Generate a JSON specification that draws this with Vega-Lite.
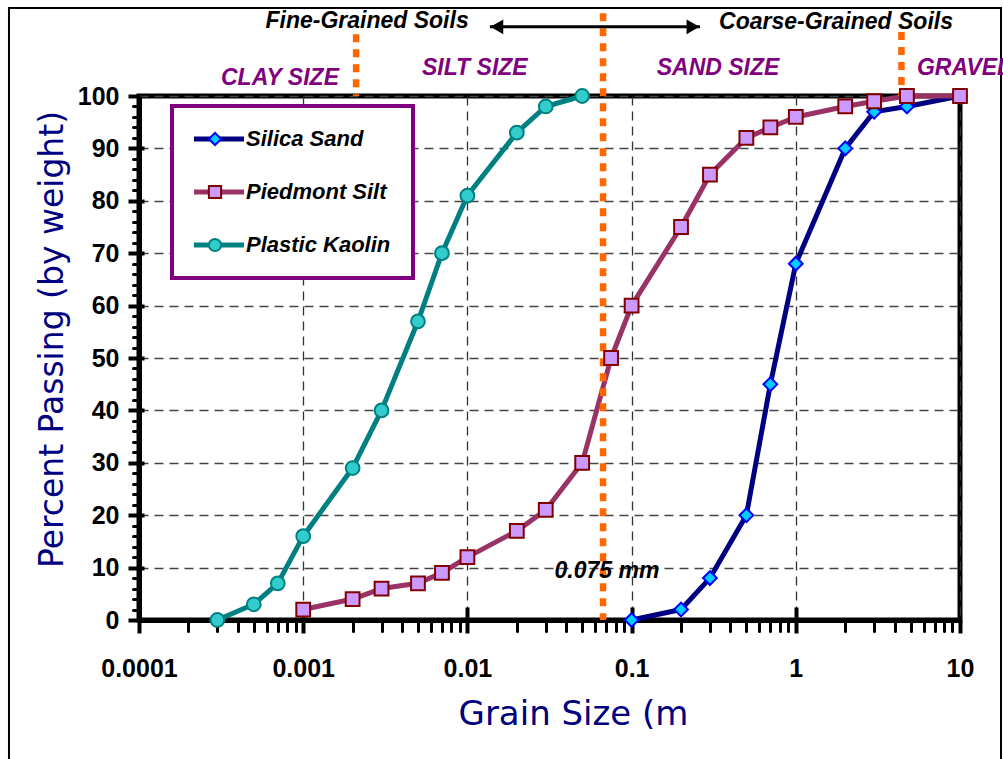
{
  "$schema": "https://vega.github.io/schema/vega-lite/v6.json",
  "width": 821,
  "height": 524,
  "autosize": "none",
  "padding": {"left": 139, "top": 96, "right": 43, "bottom": 139},
  "background": "white",
  "config": {"view": {"stroke": "black", "strokeWidth": 5}, "legend": {"strokeWidth": 4}},
  "datasets": {
    "curves": [
      {"series": "Silica Sand", "size": 0.1, "pct": 0},
      {"series": "Silica Sand", "size": 0.2, "pct": 2},
      {"series": "Silica Sand", "size": 0.3, "pct": 8},
      {"series": "Silica Sand", "size": 0.5, "pct": 20},
      {"series": "Silica Sand", "size": 0.7, "pct": 45},
      {"series": "Silica Sand", "size": 1, "pct": 68},
      {"series": "Silica Sand", "size": 2, "pct": 90},
      {"series": "Silica Sand", "size": 3, "pct": 97},
      {"series": "Silica Sand", "size": 4.75, "pct": 98},
      {"series": "Silica Sand", "size": 10, "pct": 100},
      {"series": "Piedmont Silt", "size": 0.001, "pct": 2},
      {"series": "Piedmont Silt", "size": 0.002, "pct": 4},
      {"series": "Piedmont Silt", "size": 0.003, "pct": 6},
      {"series": "Piedmont Silt", "size": 0.005, "pct": 7},
      {"series": "Piedmont Silt", "size": 0.007, "pct": 9},
      {"series": "Piedmont Silt", "size": 0.01, "pct": 12},
      {"series": "Piedmont Silt", "size": 0.02, "pct": 17},
      {"series": "Piedmont Silt", "size": 0.03, "pct": 21},
      {"series": "Piedmont Silt", "size": 0.05, "pct": 30},
      {"series": "Piedmont Silt", "size": 0.075, "pct": 50},
      {"series": "Piedmont Silt", "size": 0.1, "pct": 60},
      {"series": "Piedmont Silt", "size": 0.2, "pct": 75},
      {"series": "Piedmont Silt", "size": 0.3, "pct": 85},
      {"series": "Piedmont Silt", "size": 0.5, "pct": 92},
      {"series": "Piedmont Silt", "size": 0.7, "pct": 94},
      {"series": "Piedmont Silt", "size": 1, "pct": 96},
      {"series": "Piedmont Silt", "size": 2, "pct": 98},
      {"series": "Piedmont Silt", "size": 3, "pct": 99},
      {"series": "Piedmont Silt", "size": 4.75, "pct": 100},
      {"series": "Piedmont Silt", "size": 10, "pct": 100},
      {"series": "Plastic Kaolin", "size": 0.0003, "pct": 0},
      {"series": "Plastic Kaolin", "size": 0.0005, "pct": 3},
      {"series": "Plastic Kaolin", "size": 0.0007, "pct": 7},
      {"series": "Plastic Kaolin", "size": 0.001, "pct": 16},
      {"series": "Plastic Kaolin", "size": 0.002, "pct": 29},
      {"series": "Plastic Kaolin", "size": 0.003, "pct": 40},
      {"series": "Plastic Kaolin", "size": 0.005, "pct": 57},
      {"series": "Plastic Kaolin", "size": 0.007, "pct": 70},
      {"series": "Plastic Kaolin", "size": 0.01, "pct": 81},
      {"series": "Plastic Kaolin", "size": 0.02, "pct": 93},
      {"series": "Plastic Kaolin", "size": 0.03, "pct": 98},
      {"series": "Plastic Kaolin", "size": 0.05, "pct": 100}
    ],
    "frame": [{"x0": 0.00001615, "x1": 17.77, "y0": 116.8, "y1": -40}],
    "orange": [
      {"x": 0.0021, "y": 111.8, "y2": 100},
      {"x": 0.067, "y": 115.8, "y2": 0},
      {"x": 4.4, "y": 112.2, "y2": 100}
    ],
    "arrow": [{"x": 0.0137, "x2": 0.261, "y": 113.2}],
    "blacktext": [
      {"text": "Fine-Grained Soils", "x": 0.00245, "y": 114.3},
      {"text": "Coarse-Grained Soils", "x": 1.758, "y": 114.1},
      {"text": "0.075 mm", "x": 0.0708, "y": 9.35}
    ],
    "purpletext": [
      {"text": "CLAY SIZE", "x": 0.000722, "y": 103.4},
      {"text": "SILT SIZE", "x": 0.0111, "y": 105.3},
      {"text": "SAND SIZE", "x": 0.336, "y": 105.3}
    ],
    "graveltext": [{"text": "GRAVEL", "x": 5.47, "y": 105.3}]
  },
  "resolve": {"axis": {"x": "independent", "y": "independent"}},
  "layer": [
    {
      "data": {"name": "frame"},
      "mark": {"type": "rect", "fill": "transparent", "stroke": "black", "strokeWidth": 2, "clip": false},
      "encoding": {
        "x": {"field": "x0", "type": "quantitative", "scale": {"type": "log", "domain": [0.0001, 10], "nice": false}, "axis": null},
        "x2": {"field": "x1"},
        "y": {"field": "y0", "type": "quantitative", "scale": {"domain": [0, 100], "nice": false, "zero": false}, "axis": null},
        "y2": {"field": "y1"}
      }
    },
    {
      "data": {"name": "curves"},
      "mark": {"type": "line", "strokeWidth": 5, "strokeJoin": "round", "strokeCap": "round"},
      "encoding": {
        "x": {
          "field": "size", "type": "quantitative",
          "scale": {"type": "log", "domain": [0.0001, 10], "nice": false},
          "axis": {
            "orient": "bottom", "values": [0.0001, 0.001, 0.01, 0.1, 1, 10], "format": "~g",
            "labelFont": "Liberation Sans", "labelFontSize": 25, "labelFontWeight": "bold", "labelColor": "black",
            "labelPadding": 23, "labelOverlap": false, "labelFlush": false,
            "tickSize": 13, "tickWidth": 4, "tickColor": "black",
            "domainColor": "black", "domainWidth": 5,
            "grid": true, "gridColor": "#333333", "gridDash": [9, 6], "gridWidth": 1.3,
            "title": "Grain Size (m", "titleFont": "DejaVu Sans", "titleFontSize": 34, "titleFontWeight": "normal",
            "titleColor": "#000080", "titlePadding": 16, "titleX": 434
          }
        },
        "y": {
          "field": "pct", "type": "quantitative",
          "scale": {"domain": [0, 100], "nice": false, "zero": false},
          "axis": {
            "orient": "left", "values": [0, 10, 20, 30, 40, 50, 60, 70, 80, 90, 100],
            "labelFont": "Liberation Sans", "labelFontSize": 25, "labelFontWeight": "bold", "labelColor": "black",
            "labelPadding": 9, "labelOverlap": false, "labelFlush": false,
            "tickSize": 11, "tickWidth": 4, "tickColor": "black",
            "domainColor": "black", "domainWidth": 5,
            "grid": true, "gridColor": "#444444", "gridDash": [9, 6], "gridWidth": 1.3,
            "title": "Percent Passing (by weight)", "titleFont": "DejaVu Sans", "titleFontSize": 33, "titleFontWeight": "normal",
            "titleColor": "#000080", "titleX": -70, "titleY": 243
          }
        },
        "color": {
          "field": "series", "type": "nominal",
          "scale": {"domain": ["Silica Sand", "Piedmont Silt", "Plastic Kaolin"], "range": ["#000080", "#993366", "#008080"]},
          "legend": {
            "orient": "none", "legendX": 33, "legendY": 10, "title": null,
            "strokeColor": "#800080", "fillColor": "white", "padding": 22,
            "symbolType": "M-5,0H5", "symbolSize": 100, "symbolStrokeWidth": 5, "symbolOffset": 14,
            "labelFont": "Liberation Sans", "labelFontSize": 22, "labelFontWeight": "bold", "labelFontStyle": "italic",
            "labelColor": "black", "labelOffset": 16, "rowPadding": 31, "labelLimit": 400
          }
        }
      }
    },
    {
      "data": {"name": "orange"},
      "mark": {"type": "rule", "color": "#FF6600", "strokeWidth": 6.5, "strokeDash": [8, 7]},
      "encoding": {
        "x": {
          "field": "x", "type": "quantitative",
          "axis": {
            "orient": "bottom", "values": [0.0002, 0.0003, 0.0004, 0.0005, 0.0006, 0.0007, 0.0008, 0.0009, 0.002, 0.003, 0.004, 0.005, 0.006, 0.007, 0.008, 0.009, 0.02, 0.03, 0.04, 0.05, 0.06, 0.07, 0.08, 0.09, 0.2, 0.3, 0.4, 0.5, 0.6, 0.7, 0.8, 0.9, 2, 3, 4, 5, 6, 7, 8, 9],
            "labels": false, "domain": false, "grid": false, "title": null,
            "tickSize": 11, "tickWidth": 3, "tickColor": "black", "tickCap": "round"
          }
        },
        "y": {
          "field": "y", "type": "quantitative",
          "axis": {
            "orient": "left", "values": [2, 4, 6, 8, 12, 14, 16, 18, 22, 24, 26, 28, 32, 34, 36, 38, 42, 44, 46, 48, 52, 54, 56, 58, 62, 64, 66, 68, 72, 74, 76, 78, 82, 84, 86, 88, 92, 94, 96, 98],
            "labels": false, "domain": false, "grid": false, "title": null,
            "tickSize": 6, "tickWidth": 3, "tickColor": "black", "tickCap": "round"
          }
        },
        "y2": {"field": "y2"}
      }
    },
    {
      "data": {"name": "curves"},
      "mark": {"type": "point", "filled": true, "size": 190, "strokeWidth": 2, "opacity": 1},
      "encoding": {
        "x": {
          "field": "size", "type": "quantitative",
          "axis": {
            "orient": "bottom", "values": [0.001, 0.01, 0.1, 1],
            "labels": false, "domain": false, "grid": false, "title": null,
            "tickSize": -13, "tickWidth": 4, "tickColor": "black"
          }
        },
        "y": {
          "field": "pct", "type": "quantitative",
          "axis": {
            "orient": "left", "values": [10, 20, 30, 40, 50, 60, 70, 80, 90],
            "labels": false, "domain": false, "grid": false, "title": null,
            "tickSize": -5, "tickWidth": 4, "tickColor": "black"
          }
        },
        "shape": {
          "field": "series", "type": "nominal", "sort": null,
          "scale": {"range": ["diamond", "square", "circle"]},
          "legend": {
            "orient": "none", "legendX": 33, "legendY": 10, "title": null,
            "padding": 22, "symbolSize": 150, "symbolStrokeWidth": 2, "symbolOffset": 10,
            "labelFont": "Liberation Sans", "labelFontSize": 22, "labelFontWeight": "bold", "labelFontStyle": "italic",
            "labelExpr": "' '", "labelOffset": 4, "rowPadding": 31, "labelLimit": 400
          }
        },
        "fill": {
          "field": "series", "type": "nominal", "sort": null,
          "scale": {"range": ["#00CCFF", "#CC99FF", "#33CCCC"]}
        },
        "stroke": {
          "field": "series", "type": "nominal", "sort": null,
          "scale": {"range": ["#0000FF", "#800000", "#008080"]}
        }
      }
    },
    {
      "data": {"name": "arrow"},
      "mark": {"type": "rule", "color": "black", "strokeWidth": 3},
      "encoding": {
        "x": {"field": "x", "type": "quantitative", "axis": null},
        "x2": {"field": "x2"},
        "y": {"field": "y", "type": "quantitative", "axis": null}
      }
    },
    {
      "data": {"name": "arrow"},
      "mark": {"type": "point", "shape": "triangle-left", "filled": true, "color": "black", "size": 220, "opacity": 1, "xOffset": 7},
      "encoding": {
        "x": {"field": "x", "type": "quantitative", "axis": null},
        "y": {"field": "y", "type": "quantitative", "axis": null}
      }
    },
    {
      "data": {"name": "arrow"},
      "mark": {"type": "point", "shape": "triangle-right", "filled": true, "color": "black", "size": 220, "opacity": 1, "xOffset": -7},
      "encoding": {
        "x": {"field": "x2", "type": "quantitative", "axis": null},
        "y": {"field": "y", "type": "quantitative", "axis": null}
      }
    },
    {
      "data": {"name": "blacktext"},
      "mark": {"type": "text", "font": "Liberation Sans", "fontSize": 23, "fontWeight": "bold", "fontStyle": "italic", "color": "black", "align": "center", "baseline": "middle"},
      "encoding": {
        "x": {"field": "x", "type": "quantitative", "axis": null},
        "y": {"field": "y", "type": "quantitative", "axis": null},
        "text": {"field": "text"}
      }
    },
    {
      "data": {"name": "purpletext"},
      "mark": {"type": "text", "font": "Liberation Sans", "fontSize": 23, "fontWeight": "bold", "fontStyle": "italic", "color": "#800080", "align": "center", "baseline": "middle"},
      "encoding": {
        "x": {"field": "x", "type": "quantitative", "axis": null},
        "y": {"field": "y", "type": "quantitative", "axis": null},
        "text": {"field": "text"}
      }
    },
    {
      "data": {"name": "graveltext"},
      "mark": {"type": "text", "font": "Liberation Sans", "fontSize": 23, "fontWeight": "bold", "fontStyle": "italic", "color": "#800080", "align": "left", "baseline": "middle"},
      "encoding": {
        "x": {"field": "x", "type": "quantitative", "axis": null},
        "y": {"field": "y", "type": "quantitative", "axis": null},
        "text": {"field": "text"}
      }
    }
  ]
}
